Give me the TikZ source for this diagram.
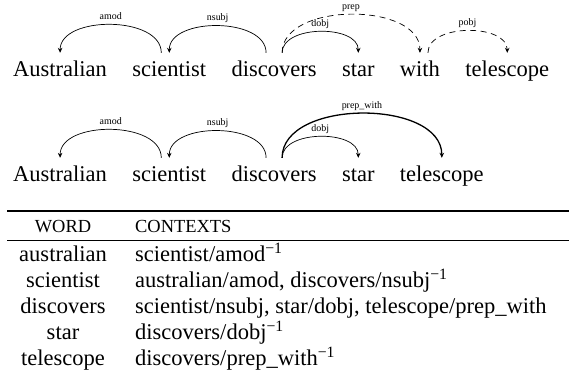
\documentclass[tikz,border=0pt]{standalone}
\usepackage{fontspec}
\setmainfont{Liberation Serif}
\usetikzlibrary{positioning,arrows.meta}

\newcommand{\invrel}{\textsuperscript{\char"2212 1}}

\tikzset{
  word/.style={inner xsep=0pt, inner ysep=7bp, text height=16bp, text depth=5bp,
    font=\fontsize{22.6}{26}\selectfont},
  dep/.style={->, line width=0.7bp, out=90, in=90, looseness=0.95},
  deplbl/.style={anchor=base, yshift=5bp, inner sep=0pt, font=\fontsize{10}{12}\selectfont},
  dashdep/.style={dep, dash pattern=on 6bp off 4.5bp},
  cell/.style={anchor=base, inner sep=0pt, font=\fontsize{22.6}{26}\selectfont},
  hdr/.style={anchor=base, inner sep=0pt, font=\fontsize{18.5}{22}\selectfont},
}

\begin{document}
\begin{tikzpicture}[x=1bp, y=-1bp, node distance=25bp, >={Stealth[length=5bp, width=4.5bp]}]
\useasboundingbox (0,0) rectangle (569,383);
% collapsed-free parse
\node[word, anchor=base west] (aus) at (13,76) {Australian};
\node[word, base right=of aus] (sci) {scientist};
\node[word, base right=of sci] (dis) {discovers};
\node[word, base right=of dis] (star) {star};
\node[word, base right=of star] (with) {with};
\node[word, base right=of with] (tel) {telescope};
\draw[dep] ([xshift=-8bp]sci.north) to node[deplbl]{amod} (aus.north);
\draw[dep] ([xshift=-8bp]dis.north) to node[deplbl]{nsubj} (sci.north);
\draw[dep] ([xshift=8bp]dis.north) to node[deplbl]{dobj} (star.north);
\draw[dashdep] ([xshift=8bp]dis.north) to node[deplbl]{prep} (with.north);
\draw[dashdep] ([xshift=8bp]with.north) to node[deplbl]{pobj} (tel.north);
% collapsed parse
\node[word, anchor=base west] (aus2) at (13,181) {Australian};
\node[word, base right=of aus2] (sci2) {scientist};
\node[word, base right=of sci2] (dis2) {discovers};
\node[word, base right=of dis2] (star2) {star};
\node[word, base right=of star2] (tel2) {telescope};
\draw[dep] ([xshift=-8bp]sci2.north) to node[deplbl]{amod} (aus2.north);
\draw[dep] ([xshift=-8bp]dis2.north) to node[deplbl]{nsubj} (sci2.north);
\draw[dep] ([xshift=8bp]dis2.north) to node[deplbl]{dobj} (star2.north);
\draw[dep, line width=1.3bp] ([xshift=8bp]dis2.north) to node[deplbl]{prep\_with} (tel2.north);
% contexts table
\draw[line width=1.2bp] (7,211) -- (569,211);
\draw[line width=0.6bp] (7,240) -- (569,240);
\node[hdr] (hw) at (63,232) {WORD};
\node[hdr, anchor=base west] (hc) at (135,232) {CONTEXTS};
\foreach \w/\c [count=\i] in {australian/{scientist/amod\invrel},
    scientist/{australian/amod, discovers/nsubj\invrel},
    discovers/{scientist/nsubj, star/dobj, telescope/prep\_with},
    star/{discovers/dobj\invrel},
    telescope/{discovers/prep\_with\invrel}}
  {
  \node[cell] (w\i) at (63,235+26*\i) {\w};
  \node[cell, anchor=base west] (c\i) at (135,235+26*\i) {\c};
  }
\end{tikzpicture}
\end{document}
